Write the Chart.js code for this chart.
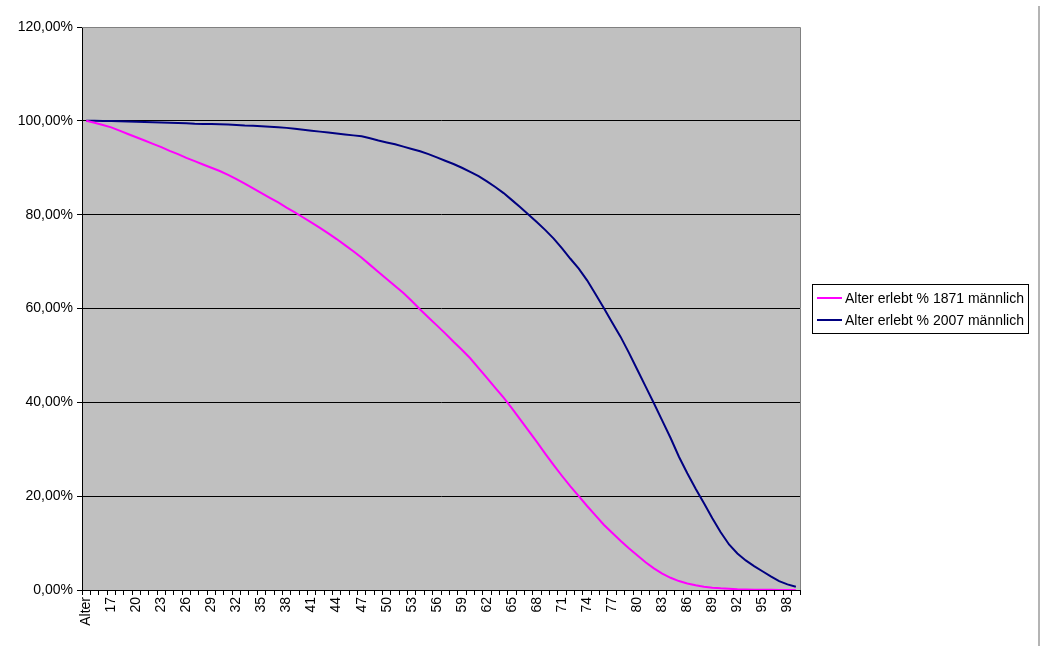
<!DOCTYPE html>
<html>
<head>
<meta charset="utf-8">
<script src="https://cdn.jsdelivr.net/npm/chart.js@4.4.1/dist/chart.umd.min.js"></script>
<style>
  body { margin: 0; background: #ffffff; }
  #wrap { position: relative; width: 1040px; height: 646px; }
</style>
</head>
<body>
<div id="wrap"><canvas id="lifeChart" width="1040" height="646"></canvas></div>
<script>
// categories: header row "Alter", then ages 15..99
const ages = ["Alter"];
for (let a = 15; a <= 99; a++) ages.push(String(a));

// share of men still alive (%)
const survival1871 = [
  100,
  99.6, 99.1, 98.6, 97.9, 97.2, 96.5, 95.8, 95.1, 94.4, 93.6,   // 15-24
  92.9, 92.1, 91.4, 90.7, 90.0, 89.3, 88.5, 87.6, 86.6, 85.6,   // 25-34
  84.6, 83.6, 82.6, 81.5, 80.5, 79.4, 78.3, 77.2, 76.0, 74.8,   // 35-44
  73.5, 72.2, 70.8, 69.3, 67.8, 66.3, 64.8, 63.3, 61.6, 59.8,   // 45-54
  58.1, 56.4, 54.7, 52.9, 51.2, 49.4, 47.3, 45.2, 43.1, 41.0,   // 55-64
  38.7, 36.3, 33.9, 31.5, 29.0, 26.6, 24.3, 22.1, 20.0, 17.9,   // 65-74
  15.9, 13.9, 12.2, 10.5, 8.9, 7.4, 5.9, 4.6, 3.5, 2.6,         // 75-84
  1.9, 1.4, 1.0, 0.7, 0.5, 0.35, 0.25, 0.15, 0.1, 0.07,         // 85-94
  0.05, 0.03, 0.02, 0.01, 0.01                                  // 95-99
];
const survival2007 = [
  100,
  100.0, 99.98, 99.95, 99.9, 99.85, 99.8, 99.75, 99.7, 99.65, 99.6, // 15-24
  99.55, 99.5, 99.4, 99.35, 99.3, 99.25, 99.2, 99.1, 99.0, 98.95,   // 25-34
  98.85, 98.75, 98.65, 98.5, 98.3, 98.1, 97.9, 97.7, 97.5, 97.3,    // 35-44
  97.1, 96.9, 96.7, 96.3, 95.8, 95.4, 95.0, 94.5, 94.0, 93.5,       // 45-54
  92.9, 92.2, 91.5, 90.8, 90.0, 89.1, 88.2, 87.1, 85.9, 84.6,       // 55-64
  83.1, 81.6, 80.0, 78.4, 76.7, 74.9, 72.8, 70.6, 68.5, 66.0,       // 65-74
  63.1, 60.1, 57.0, 54.0, 50.6, 47.0, 43.4, 39.8, 36.1, 32.4,       // 75-84
  28.4, 24.9, 21.6, 18.5, 15.3, 12.3, 9.7, 7.8, 6.3, 5.1,           // 85-94
  4.0, 2.9, 1.9, 1.2, 0.7                                           // 95-99
];
const seriesNames = ["Alter erlebt % 1871 männlich", "Alter erlebt % 2007 männlich"];
const seriesColors = ["#ff00ff", "#000080"];

const FONT = "'Liberation Sans', Arial, sans-serif";

// gray plot area with gray top/right frame
const plotArea = {
  id: "plotArea",
  beforeDraw(chart) {
    const a = chart.chartArea;
    const c = chart.ctx;
    c.save();
    c.fillStyle = "#c0c0c0";
    c.fillRect(a.left, a.top, a.right - a.left, a.bottom - a.top);
    c.restore();
  },
  afterDraw(chart) {
    const a = chart.chartArea;
    const c = chart.ctx;
    c.save();
    c.strokeStyle = "#808080";
    c.lineWidth = 1;
    c.beginPath();
    c.moveTo(a.left, a.top + 0.5);
    c.lineTo(a.right + 0.5, a.top + 0.5);
    c.lineTo(a.right + 0.5, a.bottom);
    c.stroke();
    // window edge on the far right
    c.strokeStyle = "#b4b4b4";
    c.lineWidth = 2;
    c.beginPath();
    c.moveTo(1039, 6);
    c.lineTo(1039, 646);
    c.stroke();
    c.restore();
  }
};

// boxed legend on the right, like Excel
const boxLegend = {
  id: "boxLegend",
  afterDraw(chart) {
    const c = chart.ctx;
    const x = 812, y = 284, w = 216, h = 49;
    c.save();
    c.fillStyle = "#ffffff";
    c.fillRect(x, y, w, h);
    c.strokeStyle = "#000000";
    c.lineWidth = 1;
    c.strokeRect(x + 0.5, y + 0.5, w, h);
    c.font = "14px " + FONT;
    c.textBaseline = "middle";
    chart.data.datasets.forEach((ds, i) => {
      const ly = y + 14 + i * 22;
      c.strokeStyle = ds.borderColor;
      c.lineWidth = 2;
      c.beginPath();
      c.moveTo(x + 5, ly);
      c.lineTo(x + 30, ly);
      c.stroke();
      c.fillStyle = "#000000";
      c.fillText(ds.label, x + 33, ly + 1);
    });
    c.restore();
  }
};

const ctx = document.getElementById("lifeChart").getContext("2d");
new Chart(ctx, {
  type: "line",
  data: {
    labels: ages,
    datasets: [
      { label: seriesNames[0], data: survival1871, borderColor: seriesColors[0], borderWidth: 2, pointRadius: 0, tension: 0, fill: false },
      { label: seriesNames[1], data: survival2007, borderColor: seriesColors[1], borderWidth: 2, pointRadius: 0, tension: 0, fill: false }
    ]
  },
  options: {
    responsive: false,
    animation: false,
    devicePixelRatio: 1,
    layout: { padding: { left: 0, top: 27, right: 240, bottom: 0 } },
    plugins: {
      legend: { display: false },
      tooltip: { enabled: false }
    },
    scales: {
      x: {
        offset: true,
        afterFit: s => { s.height = 56; },
        grid: { offset: true, drawOnChartArea: false, drawTicks: true, tickLength: 5, tickColor: "#000000" },
        border: { display: true, color: "#000000", width: 1 },
        ticks: {
          autoSkip: false,
          minRotation: 90,
          maxRotation: 90,
          padding: 2,
          color: "#000000",
          font: { family: FONT, size: 14 },
          callback: function (val, idx) {
            return idx % 3 === 0 ? this.getLabelForValue(val) : "";
          }
        }
      },
      y: {
        min: 0,
        max: 120,
        afterFit: s => { s.width = 82; },
        grid: {
          color: c => (c.tick && c.tick.value === 120 ? "#808080" : "#000000"),
          lineWidth: 1,
          tickLength: 5,
          tickColor: "#000000"
        },
        border: { display: true, color: "#000000", width: 1 },
        ticks: {
          stepSize: 20,
          padding: 4,
          color: "#000000",
          font: { family: FONT, size: 14 },
          callback: v => v.toFixed(2).replace(".", ",") + "%"
        }
      }
    }
  },
  plugins: [plotArea, boxLegend]
});
</script>
</body>
</html>
